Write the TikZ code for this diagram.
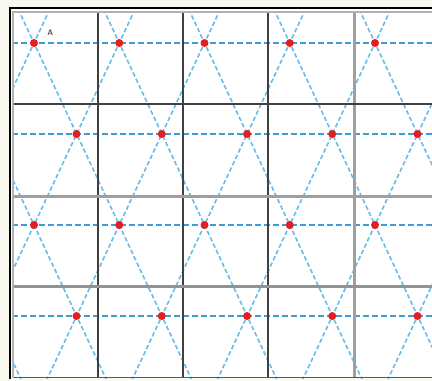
\documentclass[tikz,border=0pt]{standalone}
\usepackage{tikz}
\usetikzlibrary{positioning}
\definecolor{paper}{RGB}{250,249,240}
\definecolor{latblue}{RGB}{65,155,212}
\definecolor{diagblue}{RGB}{105,188,232}
\definecolor{latred}{RGB}{228,30,28}

\begin{document}
\begin{tikzpicture}[x=1pt, y=-1pt, font=\sffamily]
\tikzset{
  frame/.style={draw=black, line width=2.5pt},
  inner/.style={draw=gray!60, line width=2pt},
  gridline/.style={draw=black!75, line width=1.6pt},
  gridsoft/.style={draw=gray!75, line width=3pt},
  lattice/.style={draw=latblue, line width=1.3pt, dash pattern=on 6pt off 3pt},
  diag/.style={draw=diagblue, line width=1.6pt, dash pattern=on 4.5pt off 2.5pt},
  site/.style={circle, fill=latred, inner sep=0pt, minimum size=8pt},
}
\useasboundingbox (0,0) rectangle (432,381);

% Background
\fill[paper] (0,0) rectangle (432,381);
\fill[white] (10,8) rectangle (432,378);

% Lattice lines
\begin{scope}
\clip (12,11) rectangle (432,378);
\foreach \k in {-6,...,6} {
  \draw[diag] ({34+85.25*\k-42.625},-48) -- ({34+85.25*\k+42.625*4.2},{43+91*4.2});
  \draw[diag] ({34+85.25*\k+42.625},-48) -- ({34+85.25*\k-42.625*4.2},{43+91*4.2});
}
\foreach \r/\y in {0/43, 1/134, 2/225, 3/316}
  \draw[lattice] (12,\y) -- (432,\y);
\end{scope}

% Grid
\foreach \x in {98,183,268}
  \draw[gridline] (\x,11) -- (\x,378);
\draw[gridsoft] (354,11) -- (354,378);
\draw[gridline] (12,104) -- (432,104);
\draw[gridsoft] (12,196) -- (432,196);
\draw[gridsoft, draw=gray!85] (12,286) -- (432,286);
\draw[gridline, draw=black!65] (12,377.5) -- (432,377.5);

% Frame
\draw[inner] (13,378) -- (13,12) -- (432,12);
\draw[frame] (10,379) -- (10,8) -- (432,8);

% Sites
\foreach \i in {0,...,4} {
  \node (a\i) [site] at ({34+85.25*\i},43) {};
  \node (b\i) [site] at ({76.5+85.25*\i},134) {};
  \node (c\i) [site] at ({34+85.25*\i},225) {};
  \node (d\i) [site] at ({76.5+85.25*\i},316) {};
}
\node (lblA) [right=9pt of a0, yshift=10pt, font=\sffamily\bfseries\fontsize{8}{8}\selectfont, text=black!65, inner sep=0pt] {A};

\end{tikzpicture}
\end{document}
